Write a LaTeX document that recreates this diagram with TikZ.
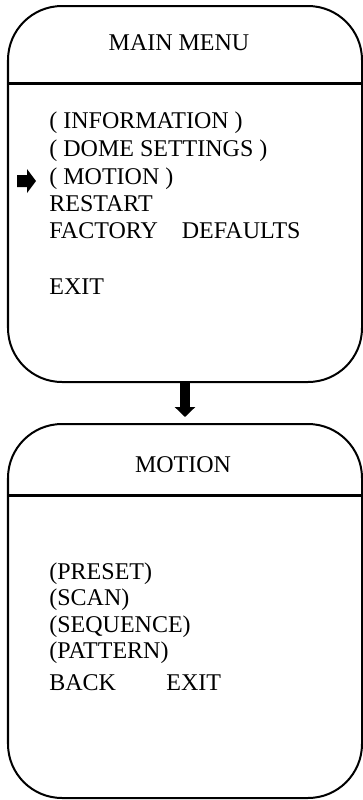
\documentclass[tikz,border=0pt]{standalone}
\usepackage{fontspec}
\setmainfont{Liberation Serif}
\usetikzlibrary{arrows.meta}
\begin{document}
\begin{tikzpicture}[x=0.5pt,y=-0.5pt,
	panel/.style={draw, line width=1pt, rounded corners=27pt, minimum width=177pt, inner sep=0pt},
	entry/.style={anchor=base west, inner sep=0pt, font=\fontsize{12}{14}\selectfont},
	title/.style={anchor=base, inner sep=0pt, font=\fontsize{12}{14}\selectfont}]
	\useasboundingbox (0,0) rectangle (363,800);
	\node (mainbox) at (185,194)	[panel, minimum height=188pt]	{};
	\node (motionbox) at (185,611)	[panel, minimum height=187pt]	{};
	\draw[line width=1.5pt] (mainbox.west |- 0,83) -- (mainbox.east |- 0,83);
	\draw[line width=1.5pt] (motionbox.west |- 0,495) -- (motionbox.east |- 0,495);
	\node (maintitle) at (179,50)	[title]	{MAIN MENU};
	\node (info) at (49,128)	[entry]	{( INFORMATION )};
	\node (dome) at (49,156)	[entry]	{( DOME SETTINGS )};
	\node (motion) at (49,184)	[entry]	{( MOTION )};
	\node (restart) at (49,211)	[entry]	{RESTART};
	\node (factory) at (49,238)	[entry]	{FACTORY\hspace{12pt}DEFAULTS};
	\node (exit) at (49,294)	[entry]	{EXIT};
	% pointer
	\fill (17,175) -- (27,175) -- (27,169) -- (36,181) -- (27,193) -- (27,187) -- (17,187) -- cycle;
	\node (motiontitle) at (183,472)	[title]	{MOTION};
	\node (preset) at (49,579)	[entry]	{(PRESET)};
	\node (scan) at (49,605)	[entry]	{(SCAN)};
	\node (sequence) at (49,632)	[entry]	{(SEQUENCE)};
	\node (pattern) at (49,658)	[entry]	{(PATTERN)};
	\node (back) at (49,690)	[entry]	{BACK};
	\node (backexit) at (166,690)	[entry]	{EXIT};
	\draw[line width=5pt, shorten >=3pt, -{Triangle[width=10pt, length=5pt]}] (mainbox.south) -- (motionbox.north);
\end{tikzpicture}
\end{document}
